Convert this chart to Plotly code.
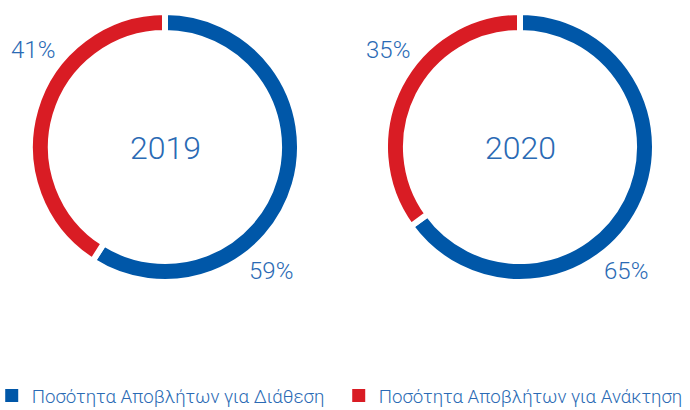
import plotly.graph_objects as go

# Waste quantities split by destination, per year (percent)
labels = ["Ποσότητα Αποβλήτων για Διάθεση", "Ποσότητα Αποβλήτων για Ανάκτηση"]
years = ["2019", "2020"]
disposal = [59, 65]
recovery = [41, 35]

blue = "#0057a8"
red = "#d91c24"
text_blue = "#2a6ab4"
font_family = "Roboto"

W, H = 690, 410
R = 135          # drawn outer radius in px
centers_x = [165, 520]
center_y = 147

fig = go.Figure()
for i, year in enumerate(years):
    cx = centers_x[i]
    fig.add_trace(go.Pie(
        labels=labels,
        values=[disposal[i], recovery[i]],
        hole=0.845,
        sort=False,
        direction="clockwise",
        rotation=0,
        textinfo="none",
        hoverinfo="label+percent",
        marker=dict(colors=[blue, red], line=dict(color="white", width=6)),
        domain=dict(x=[(cx - R) / W, (cx + R) / W],
                    y=[1 - (center_y + R) / H, 1 - (center_y - R) / H]),
        showlegend=False,
    ))
    # year in the middle of the ring
    fig.add_annotation(x=cx / W, y=1 - 148 / H, xref="paper", yref="paper",
                       xanchor="center", yanchor="middle",
                       text=year, showarrow=False,
                       font=dict(family=font_family, size=32, color=text_blue, weight=300))
    # percentage labels outside the ring
    fig.add_annotation(x=(cx - 132) / W, y=1 - 50 / H, xref="paper", yref="paper",
                       xanchor="center", yanchor="middle",
                       text=f"{recovery[i]}%", showarrow=False,
                       font=dict(family=font_family, size=24, color=text_blue, weight=300))
    fig.add_annotation(x=(cx + 106) / W, y=1 - 271 / H, xref="paper", yref="paper",
                       xanchor="center", yanchor="middle",
                       text=f"{disposal[i]}%", showarrow=False,
                       font=dict(family=font_family, size=24, color=text_blue, weight=300))

# legend entries: plain square swatches
for name, col in zip(labels, [blue, red]):
    fig.add_trace(go.Scatter(
        x=[None], y=[None], mode="markers", name=name,
        marker=dict(symbol="square", size=13, color=col),
        hoverinfo="skip",
    ))

fig.update_layout(
    width=W, height=H,
    margin=dict(l=0, r=0, t=0, b=0, autoexpand=False),
    paper_bgcolor="white",
    plot_bgcolor="white",
    xaxis=dict(visible=False),
    yaxis=dict(visible=False),
    legend=dict(orientation="h", x=-0.012, y=-0.012, xanchor="left", yanchor="bottom",
                font=dict(family=font_family, size=18.7, color=text_blue, weight=300),
                itemwidth=30, entrywidth=302, entrywidthmode="pixels",
                bgcolor="rgba(0,0,0,0)"),
)

fig.write_html("out.html")
